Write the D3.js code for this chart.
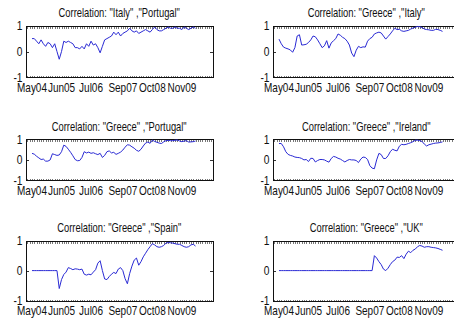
<!DOCTYPE html>
<html><head><meta charset="utf-8">
<script src="https://cdn.jsdelivr.net/npm/d3@7"></script>
<style>
body{margin:0;background:#fff}
svg{display:block}
text{font-family:"Liberation Sans",Arial,Helvetica,sans-serif;fill:#111}
</style>
</head><body>
<svg id="c" width="454" height="320"></svg>
<script>
// ---- data ----
const titles = [
  'Correlation: "Italy" ,"Portugal"',
  'Correlation: "Greece" ,"Italy"',
  'Correlation: "Greece" ,"Portugal"',
  'Correlation: "Greece" ,"Ireland"',
  'Correlation: "Greece" ,"Spain"',
  'Correlation: "Greece" ,"UK"'
];
const tickMonths = [4, 17, 30, 44, 57, 70];          // months since Jan 2004
const tickLabels = ["May04", "Jun05", "Jul06", "Sep07", "Oct08", "Nov09"];
const yTicks = [-1, 0, 1];
const yTickLabels = ["-1", "0", "1"];
const startMonth = 4;                                  // series start: May 2004, monthly

const italyPortugal = [0.5,0.5,0.4,0.3,0.45,0.3,0.2,0.35,0.3,0.15,0.3,0.0,-0.3,0.0,0.4,0.35,0.4,0.35,0.3,0.15,
  0.15,0.1,0.2,0.1,0.3,0.2,0.4,0.25,0.3,0.15,-0.05,0.2,0.45,0.5,0.55,0.6,0.75,0.65,0.75,0.6,
  0.7,0.75,0.8,0.9,0.8,0.75,0.8,0.7,0.75,0.8,0.85,0.8,0.75,0.85,0.95,0.85,0.8,0.8,0.85,0.9,
  0.95,0.9,0.9,0.95,0.9,0.9,0.85,0.95,0.9,0.85,0.9,0.95,0.9];
const greeceItaly = [0.48,0.3,0.17,0.13,0.1,0.06,-0.03,0.15,0.6,0.65,0.25,0.26,0.28,0.35,0.45,0.6,0.57,0.45,0.3,0.15,
  0.22,0.42,0.13,0.33,0.42,0.5,0.68,0.63,0.55,0.5,0.4,0.25,-0.06,-0.2,0.05,0.2,0.15,0.18,0.17,0.4,
  0.5,0.55,0.68,0.72,0.75,0.72,0.6,0.48,0.58,0.68,0.8,0.9,0.85,0.86,0.8,0.78,0.8,0.82,0.87,0.91,
  0.94,0.97,0.96,0.93,0.87,0.85,0.84,0.82,0.82,0.86,0.85,0.82,0.78];
const greecePortugal = [0.3,0.26,0.16,0.08,0.0,0.02,-0.08,-0.08,-0.02,0.28,0.24,0.2,0.22,0.38,0.7,0.64,0.5,0.35,0.18,0.0,
  -0.06,-0.05,0.1,0.38,0.32,0.36,0.3,0.33,0.28,0.24,0.3,0.1,0.2,0.38,0.42,0.32,0.35,0.25,0.3,0.36,
  0.46,0.6,0.72,0.7,0.62,0.55,0.45,0.4,0.5,0.66,0.8,0.85,0.79,0.95,0.88,0.84,0.8,0.78,0.86,0.92,
  0.93,0.92,0.92,0.94,0.95,0.9,0.87,0.9,0.92,0.85,0.86,0.87,0.9];
const greeceIreland = [0.78,0.78,0.62,0.38,0.25,0.2,0.17,0.12,0.1,0.09,0.05,-0.02,0.0,-0.1,0.06,0.05,-0.12,-0.05,0.0,0.0,
  -0.02,-0.08,-0.13,0.05,0.15,0.12,0.06,0.02,-0.05,-0.12,-0.05,0.0,-0.02,-0.02,-0.05,-0.15,0.02,0.12,0.1,0.0,
  -0.3,-0.42,-0.45,-0.02,0.3,0.24,0.05,0.05,0.18,0.38,0.5,0.45,0.42,0.65,0.74,0.72,0.74,0.78,0.82,0.87,
  0.94,0.94,0.92,0.88,0.75,0.66,0.72,0.75,0.78,0.8,0.81,0.83,0.86];
const greeceSpain = [0,0,0,0,0,0,0,0,0,0,0,0,-0.6,-0.3,-0.13,-0.05,0.1,0.07,0.03,0.06,
  0.05,0.03,0.05,-0.12,-0.15,-0.12,-0.14,-0.05,0.03,0.25,0.33,0.0,-0.28,-0.3,-0.2,-0.12,-0.06,-0.1,0.05,0.1,
  0.0,-0.27,-0.44,-0.1,0.15,0.35,0.42,0.18,0.3,0.46,0.58,0.7,0.8,0.9,0.86,0.8,0.78,0.8,0.84,0.92,
  0.94,0.93,0.92,0.9,0.88,0.88,0.84,0.8,0.78,0.8,0.86,0.88,0.82];
const greeceUK = [0,0,0,0,0,0,0,0,0,0,0,0,0,0,0,0,0,0,0,0,
  0,0,0,0,0,0,0,0,0,0,0,0,0,0,0,0,0,0,0,0,
  0,0,0.5,0.42,0.3,0.2,0.05,0.0,0.08,0.2,0.3,0.35,0.45,0.44,0.5,0.4,0.55,0.65,0.6,0.68,
  0.72,0.8,0.84,0.82,0.78,0.8,0.8,0.78,0.77,0.76,0.74,0.71,0.68];

const series = [italyPortugal, greeceItaly, greecePortugal, greeceIreland, greeceSpain, greeceUK];

// ---- layout ----
const colX = [25.5, 272.5];
const panelW = 187.5;
const rowsY = [[25.7, 77.3], [139, 180], [240.7, 300.5]];
const xDomain = [1.14, 83.7];

const svg = d3.select("#c");
svg.append("rect").attr("width", 454).attr("height", 320).attr("fill", "#fff");

series.forEach((vals, k) => {
  const col = k % 2, row = Math.floor(k / 2);
  const x0 = colX[col], x1 = x0 + panelW;
  const [top, bottom] = rowsY[row];
  const x = d3.scaleLinear().domain(xDomain).range([x0, x1]);
  const y = d3.scaleLinear().domain([-1, 1]).range([bottom, top]);
  const g = svg.append("g");
  const bT = Math.round(top) + 0.5, bB = Math.round(bottom) + 0.5;

  // minor x ticks (monthly), inward, top & bottom
  const minor = d3.range(Math.ceil(xDomain[0]), Math.floor(xDomain[1]) + 1);
  [[bB, -2], [bT, 2]].forEach(([yy, len]) => {
    g.append("g").selectAll("line").data(minor).join("line")
      .attr("x1", d => Math.round(x(d)) + 0.5).attr("x2", d => Math.round(x(d)) + 0.5)
      .attr("y1", yy).attr("y2", yy + len)
      .attr("stroke", "#777").attr("stroke-width", 1).attr("shape-rendering", "crispEdges");
  });

  // y ticks inward both sides
  g.append("g").selectAll("line").data(yTicks).join("line")
    .attr("x1", x0).attr("x2", x0 + 3).attr("y1", d => Math.round(y(d)) + 0.5).attr("y2", d => Math.round(y(d)) + 0.5)
    .attr("stroke", "#333").attr("shape-rendering", "crispEdges");
  g.append("g").selectAll("line").data(yTicks).join("line")
    .attr("x1", x1 - 3).attr("x2", x1).attr("y1", d => Math.round(y(d)) + 0.5).attr("y2", d => Math.round(y(d)) + 0.5)
    .attr("stroke", "#333").attr("shape-rendering", "crispEdges");

  // box
  g.append("rect").attr("x", Math.round(x0) + 0.5).attr("y", bT)
    .attr("width", Math.round(x1) - Math.round(x0)).attr("height", bB - bT)
    .attr("fill", "none").attr("stroke", "#111").attr("stroke-width", 1).attr("shape-rendering", "crispEdges");

  // series line
  const line = d3.line().x((d, i) => x(startMonth + i)).y(d => y(d));
  g.append("path").datum(vals).attr("d", line)
    .attr("fill", "none").attr("stroke", "#2a2ad4").attr("stroke-width", 1)
    .attr("stroke-linejoin", "round");

  // y tick labels
  g.append("g").selectAll("text").data(yTicks).join("text")
    .attr("transform", d => `translate(${x0 - 3},${y(d) + 4.5}) scale(0.82,1)`)
    .attr("text-anchor", "end").attr("font-size", 12.5)
    .text((d, i) => yTickLabels[i]);

  // x tick labels
  g.append("g").selectAll("text").data(tickMonths).join("text")
    .attr("transform", d => `translate(${x(d)},${bottom + 14.5}) scale(0.8,1)`)
    .attr("text-anchor", "middle").attr("font-size", 12.5)
    .text((d, i) => tickLabels[i]);

  // title
  g.append("text")
    .attr("transform", `translate(${(x0 + x1) / 2},${top - 8.5}) scale(0.78,1)`)
    .attr("text-anchor", "middle").attr("font-size", 12)
    .text(titles[k]);
});
</script>
</body></html>
